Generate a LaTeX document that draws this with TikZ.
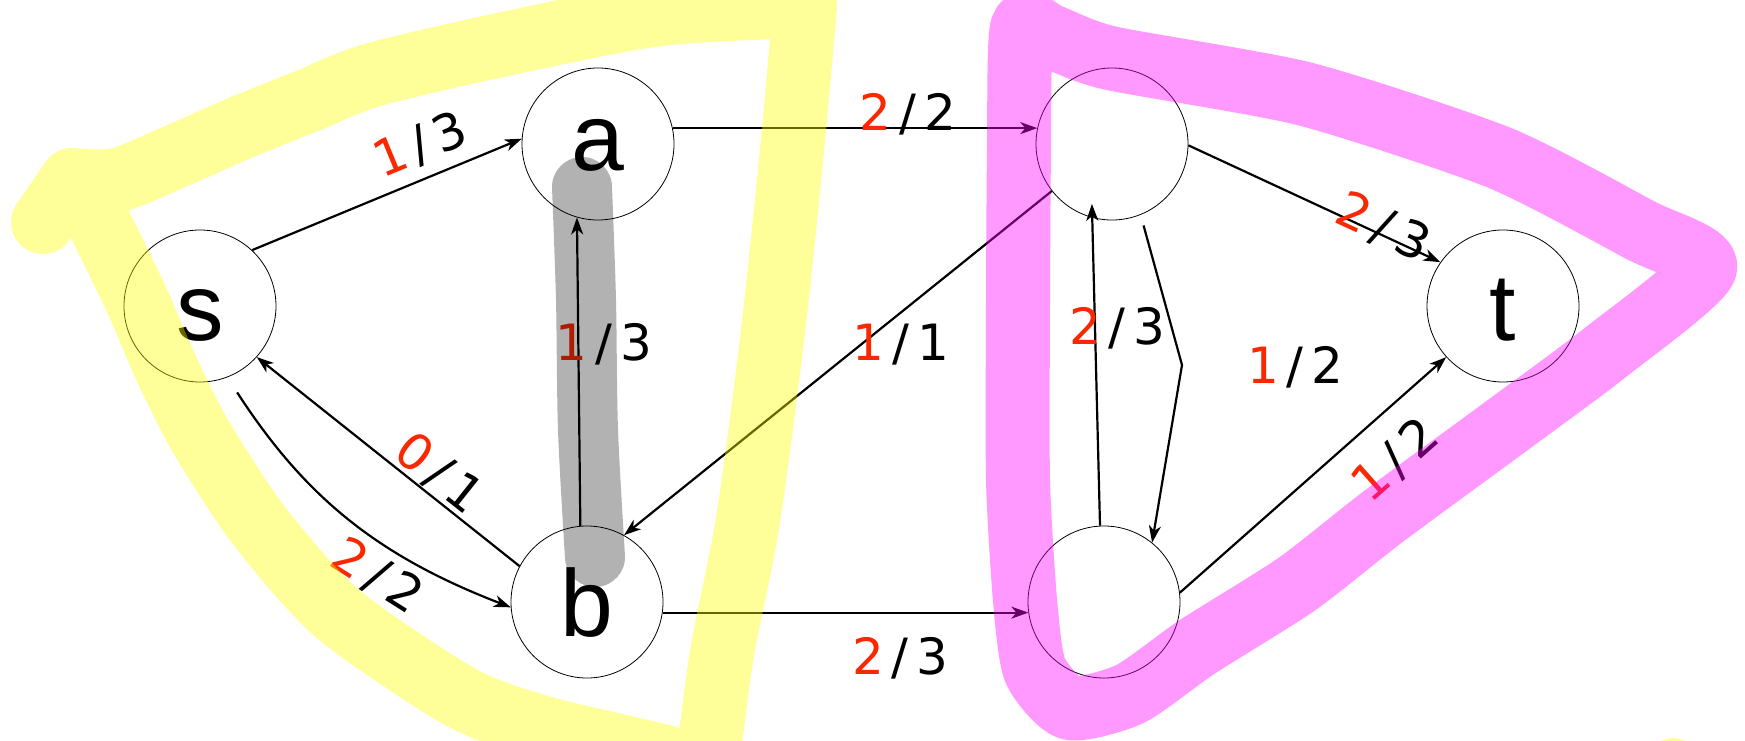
\documentclass[tikz,border=0pt]{standalone}
\usepackage{fontspec}
\setmainfont{Liberation Sans}
\newfontfamily\numfont{DejaVu Sans}
\usetikzlibrary{arrows.meta}
\definecolor{flowred}{RGB}{250,40,0}
\definecolor{penyellow}{RGB}{255,255,0}
\definecolor{penpink}{RGB}{255,0,255}
\newcommand{\fl}[2]{{\color{flowred}#1}\hspace{0.16em}/\hspace{0.16em}#2}
\begin{document}
\begin{tikzpicture}[x=1pt, y=-1pt,
	vertex/.style={circle, draw, line width=0.8pt, minimum size=152pt, inner sep=0pt, font=\fontsize{95}{95}\selectfont, text height=68pt, text depth=0pt},
	flow/.style={font=\numfont\fontsize{50}{50}\selectfont, inner sep=0pt, text height=36pt, text depth=0pt},
	edge/.style={line width=2.2pt, -{Stealth[length=17pt, width=12pt, inset=5pt]}},
	hilite/.style={line width=#1, line cap=round, line join=round}]
	\useasboundingbox (0,0) rectangle (1745,741);
	\draw (200,306) node[vertex] (s) {s};
	\draw (598,144) node[vertex, text height=52pt] (a) {a};
	\draw (587,602) node[vertex] (b) {b};
	\draw (1112,144) node[vertex] (c) {};
	\draw (1104,602) node[vertex] (d) {};
	\draw (1503,306) node[vertex] (t) {t};
	\coordinate (k) at (1182,365);
	\draw[edge] (s.47) -- node[flow, above=15pt, sloped, pos=0.67] {\fl{1}{3}} (a.176);
	\draw[edge] (a.12) -- node[flow, above=-3pt, pos=0.645] {\fl{2}{2}} (c.168);
	\draw[edge] (c.218) -- node[flow, anchor=west, xshift=-12pt, pos=0.44] {\fl{1}{1}} (b.61);
	\draw[edge] (b.95) -- node[flow, anchor=west, xshift=-24pt, pos=0.595] {\fl{1}{3}} (a.254);
	\draw[edge] (b.152) -- node[flow, above=5pt, sloped, pos=0.36] {\fl{0}{1}} (s.318);
	\draw[edge, shorten <=18pt] (s.291) to[bend right=18] node[flow, below=10pt, sloped, pos=0.66] {\fl{2}{2}} (b.184);
	\draw[edge] (b.-8) -- node[flow, below=25pt, pos=0.65] {\fl{2}{3}} (d.188);
	\draw[edge, shorten >=-14pt] (d.93) -- node[flow, anchor=west, xshift=-27pt, pos=0.647] {\fl{2}{3}} (c.255);
	\draw[edge, shorten <=11pt] (c.292) -- (k) node[flow, right=64pt] {\fl{1}{2}} -- (d.51);
	\draw[edge] (c.-1) -- node[flow, above=-10pt, sloped, pos=0.76] {\fl{2}{3}} (t.145);
	\draw[edge] (d.7) -- node[flow, below=23pt, sloped, pos=0.7] {\fl{1}{2}} (t.222);
	\draw[hilite=60pt, black, opacity=0.3] plot[smooth] coordinates {(582,187) (586,300) (588,430) (595,557)};
	\draw[hilite=64pt, penyellow, opacity=0.4] (43,222) -- (72,180)
		plot[smooth, tension=0.5] coordinates {(72,180) (117,180) (174,157) (240,128) (307,101) (376,74) (519,41) (660,14) (805,6)}
		plot[smooth, tension=0.5] coordinates {(805,6) (792,150) (773,331) (748,520) (722,653) (708,760)}
		plot[smooth, tension=0.5] coordinates {(95,215) (115,255) (138,303) (167,370) (201,437) (257,523) (328,605) (396,656) (470,702) (540,727) (606,743) (666,757)};
	\fill[penyellow, opacity=0.4] (1673,764) circle (26pt);
	\draw[hilite=64pt, penpink, opacity=0.4] plot[smooth cycle, tension=0.4] coordinates {(1022,28) (1019,150) (1018,300) (1018,480) (1025,600) (1035,670) (1070,708) (1130,694) (1197,647) (1297,584) (1384,516) (1516,419) (1606,352) (1705,268) (1640,230) (1500,158) (1305,94) (1110,58) (1050,36)};
\end{tikzpicture}
\end{document}
